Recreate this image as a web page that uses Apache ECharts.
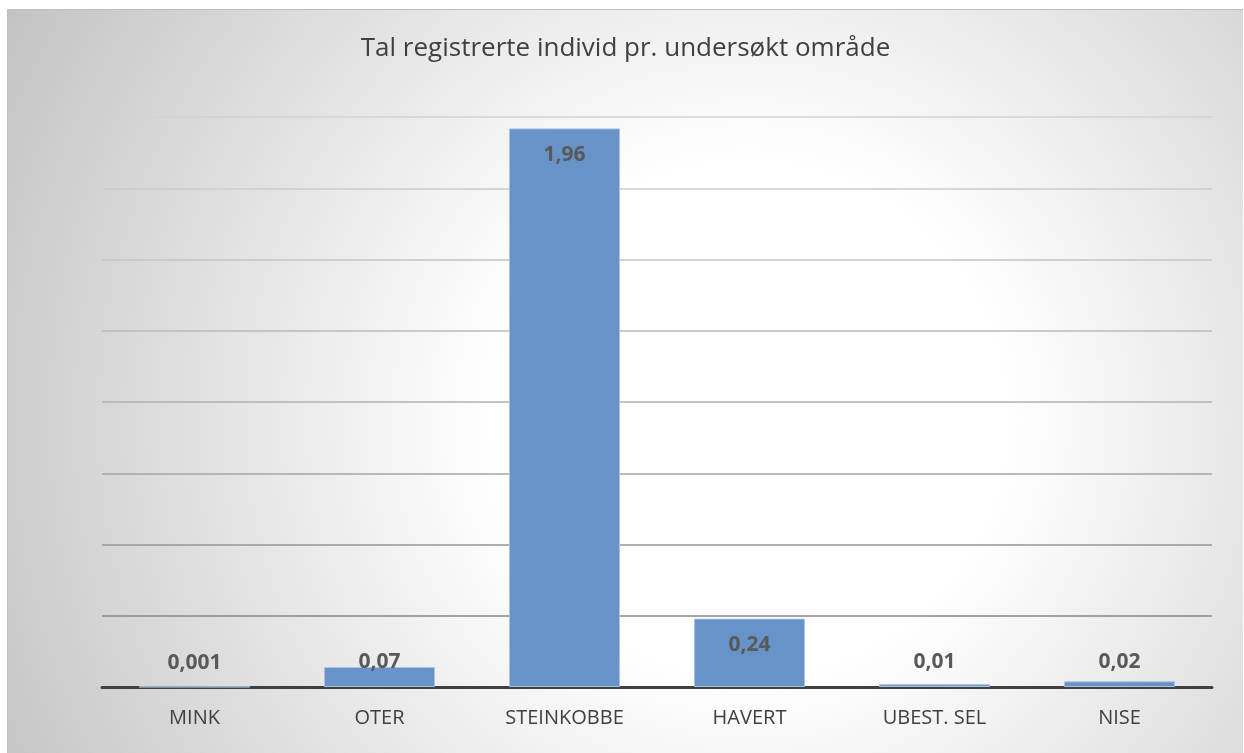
<!DOCTYPE html>
<html>
<head>
<meta charset="utf-8">
<script src="https://cdn.jsdelivr.net/npm/echarts@6/dist/echarts.min.js"></script>
<style>
  html, body { margin: 0; padding: 0; background: #ffffff; }
  #chart {
    position: absolute; left: 7px; top: 9px;
    width: 1235px; height: 743px;
    border: 1px solid #bfbfbf; border-right: none; border-bottom: none;
  }
</style>
</head>
<body>
<div id="chart"></div>
<script>
// data
var chartTitle = 'Tal registrerte individ pr. undersøkt område';
var categories = ['MINK', 'OTER', 'STEINKOBBE', 'HAVERT', 'UBEST. SEL', 'NISE'];
var values = [0.001, 0.07, 1.96, 0.24, 0.01, 0.02];

// gridline colours, bottom to top (darker near the axis)
var gridColors = ['#404040', '#868686', '#969696', '#a4a4a4', '#b0b0b0', '#bababa', '#c3c3c3', '#cbcbcb', '#d2d2d2'];

function fmt(v) {
  return String(v).replace('.', ',');
}

var myChart = echarts.init(document.getElementById('chart'));

var barData = values.map(function (v) {
  var big = v > 0.15;
  return {
    value: v,
    label: big
      ? { position: 'insideTop', distance: 16 }
      : { position: 'insideBottom', distance: 14 }
  };
});

var option = {
  backgroundColor: {
    type: 'radial', x: 0.6, y: 0.55, r: 1.15,
    colorStops: [
      { offset: 0, color: '#ffffff' },
      { offset: 0.3, color: '#ffffff' },
      { offset: 1, color: '#c2c2c2' }
    ]
  },
  textStyle: { fontFamily: 'Open Sans' },
  title: {
    text: chartTitle,
    left: 'center',
    top: 21,
    textStyle: { fontSize: 26, fontWeight: 'normal', color: '#404040', fontFamily: 'Open Sans' }
  },
  grid: { left: 94, right: 31, top: 107, bottom: 66 },
  xAxis: {
    type: 'category',
    data: categories,
    axisLine: { lineStyle: { color: '#404040', width: 3 } },
    axisTick: { show: false },
    axisLabel: { fontSize: 20, color: '#404040', margin: 21, fontFamily: 'Open Sans' }
  },
  yAxis: {
    type: 'value',
    min: 0,
    max: 2,
    interval: 0.25,
    axisLabel: { show: false },
    axisLine: { show: false },
    axisTick: { show: false },
    splitLine: { lineStyle: { color: gridColors, width: 1.5 } }
  },
  series: [{
    type: 'bar',
    data: barData,
    barCategoryGap: '40%',
    itemStyle: { color: '#6893c8', borderColor: '#a9c2e3', borderWidth: 1 },
    label: {
      show: true,
      fontSize: 21,
      fontWeight: 'bold',
      color: '#595959',
      fontFamily: 'Open Sans',
      formatter: function (p) { return fmt(p.value); }
    }
  }]
};

myChart.setOption(option);
</script>
</body>
</html>
